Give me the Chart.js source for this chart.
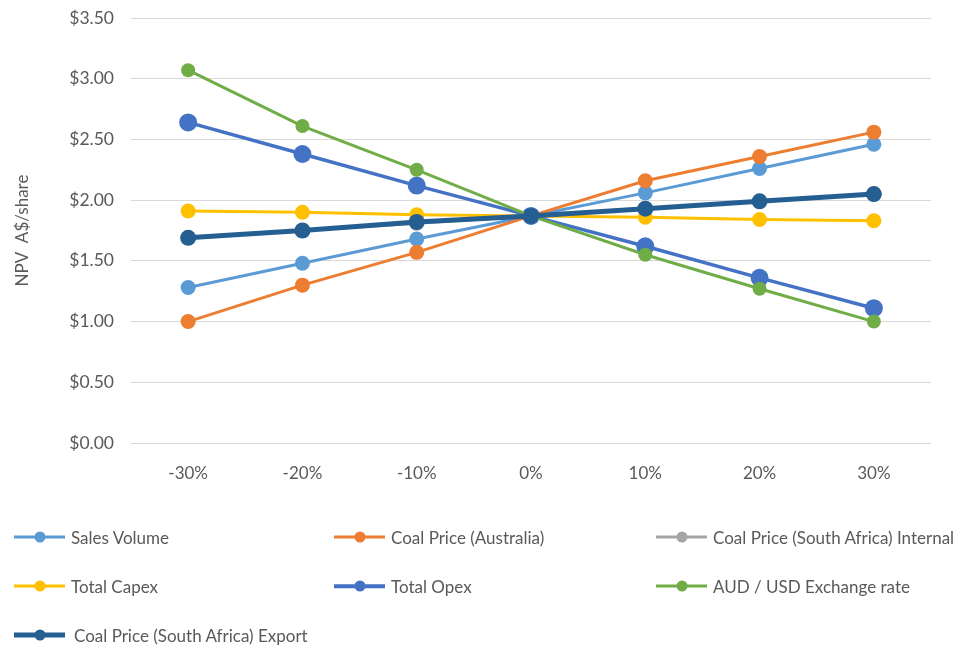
<!DOCTYPE html>
<html>
<head>
<meta charset="utf-8">
<script src="https://cdn.jsdelivr.net/npm/chart.js@4.4.1/dist/chart.umd.min.js"></script>
<style>
  html, body { margin: 0; padding: 0; background: #ffffff; }
  #wrap { position: relative; width: 966px; height: 646px; overflow: hidden; }
  #chart { position: absolute; left: 0; top: 9px; }
  .item { position: absolute; height: 24px; display: flex; align-items: center;
          font-family: Lato, "Open Sans", sans-serif; font-size: 17px; color: #595959; white-space: nowrap; }
  .swatch { position: relative; width: 51px; height: 24px; margin-right: 6px; }
  .swatch .ln { position: absolute; left: 0; right: 0; top: 50%; transform: translateY(-50%); }
  .swatch .dot { position: absolute; left: 50%; top: 50%; width: 11px; height: 11px; border-radius: 50%;
                 transform: translate(-50%, -50%); }
</style>
</head>
<body>
<div id="wrap">
  <canvas id="chart" width="966" height="637"></canvas>
  <div id="legend"></div>
</div>
<script>
// Sensitivity of NPV per share to +/- changes in each driver
const categories = ['-30%', '-20%', '-10%', '0%', '10%', '20%', '30%'];

const salesVolume     = [1.28, 1.48, 1.68, 1.87, 2.06, 2.26, 2.46];
const coalPriceAus    = [1.00, 1.30, 1.57, 1.87, 2.16, 2.36, 2.56];
const coalPriceSAInt  = [1.69, 1.75, 1.81, 1.87, 1.93, 1.99, 2.05];
const totalCapex      = [1.91, 1.90, 1.88, 1.87, 1.86, 1.84, 1.83];
const totalOpex       = [2.64, 2.38, 2.12, 1.87, 1.62, 1.36, 1.11];
const audUsd          = [3.07, 2.61, 2.25, 1.87, 1.55, 1.27, 1.00];
const coalPriceSAExp  = [1.69, 1.75, 1.82, 1.87, 1.93, 1.99, 2.05];

const seriesNames = [
  'Sales Volume', 'Coal Price (Australia)', 'Coal Price (South Africa) Internal',
  'Total Capex', 'Total Opex', 'AUD / USD Exchange rate', 'Coal Price (South Africa) Export'
];
const seriesData = [salesVolume, coalPriceAus, coalPriceSAInt, totalCapex, totalOpex, audUsd, coalPriceSAExp];
const seriesColors = ['#5B9BD5', '#ED7D31', '#A5A5A5', '#FFC000', '#4472C4', '#70AD47', '#255E91'];
const lineWidths   = [3, 3, 3, 3, 3.5, 3, 5];
const pointSizes   = [7.5, 7.5, 7.5, 7.5, 9, 7, 8];

const yTicks = [0, 0.5, 1, 1.5, 2, 2.5, 3, 3.5];

const FONT = 'Lato, "Open Sans", sans-serif';
const TEXT = '#595959';

const datasets = seriesNames.map((name, i) => ({
  label: name,
  data: seriesData[i],
  borderColor: seriesColors[i],
  backgroundColor: seriesColors[i],
  borderWidth: lineWidths[i],
  pointRadius: pointSizes[i],
  pointHoverRadius: pointSizes[i],
  pointBorderWidth: 0,
  pointBackgroundColor: seriesColors[i],
  tension: 0,
  order: seriesNames.length - i   // later series sit on top
}));

new Chart(document.getElementById('chart'), {
  type: 'line',
  data: { labels: categories, datasets },
  options: {
    responsive: false,
    animation: false,
    layout: { padding: { top: 0, right: 35, left: 0, bottom: 0 } },
    plugins: { legend: { display: false }, tooltip: { enabled: false } },
    scales: {
      x: {
        offset: true,
        grid: { display: false },
        border: { display: false },
        ticks: { color: TEXT, font: { family: FONT, size: 17 }, padding: 12, maxRotation: 0 },
        afterFit: s => { s.height = 203; }
      },
      y: {
        min: 0, max: 3.5,
        afterBuildTicks: s => { s.ticks = yTicks.map(v => ({ value: v })); },
        grid: { color: '#d9d9d9', lineWidth: 1, drawTicks: false },
        border: { display: false },
        ticks: {
          color: TEXT, font: { family: FONT, size: 17.5 }, padding: 17,
          callback: v => '$' + Number(v).toFixed(2)
        },
        title: { display: true, text: 'NPV  A$/share', color: TEXT,
                 font: { family: FONT, size: 17 }, padding: { top: 12, bottom: 0 } },
        afterFit: s => { s.width = 131; s.paddingTop = 0; }
      }
    }
  }
});

// Legend laid out in three columns below the plot
const legendPos = [
  [14, 525], [334, 525], [656, 525],
  [14, 574], [334, 574], [656, 574],
  [14, 623]
];
const legend = document.getElementById('legend');
seriesNames.forEach((name, i) => {
  const el = document.createElement('div');
  el.className = 'item';
  el.style.left = legendPos[i][0] + 'px';
  el.style.top = legendPos[i][1] + 'px';
  const sw = document.createElement('div');
  sw.className = 'swatch';
  const ln = document.createElement('div');
  ln.className = 'ln';
  ln.style.height = lineWidths[i] + 'px';
  ln.style.background = seriesColors[i];
  const dot = document.createElement('div');
  dot.className = 'dot';
  dot.style.background = seriesColors[i];
  sw.appendChild(ln); sw.appendChild(dot);
  if (i === 6) sw.style.marginRight = '9px';
  el.appendChild(sw);
  const t = document.createElement('span');
  t.textContent = name;
  el.appendChild(t);
  legend.appendChild(el);
});
</script>
</body>
</html>
